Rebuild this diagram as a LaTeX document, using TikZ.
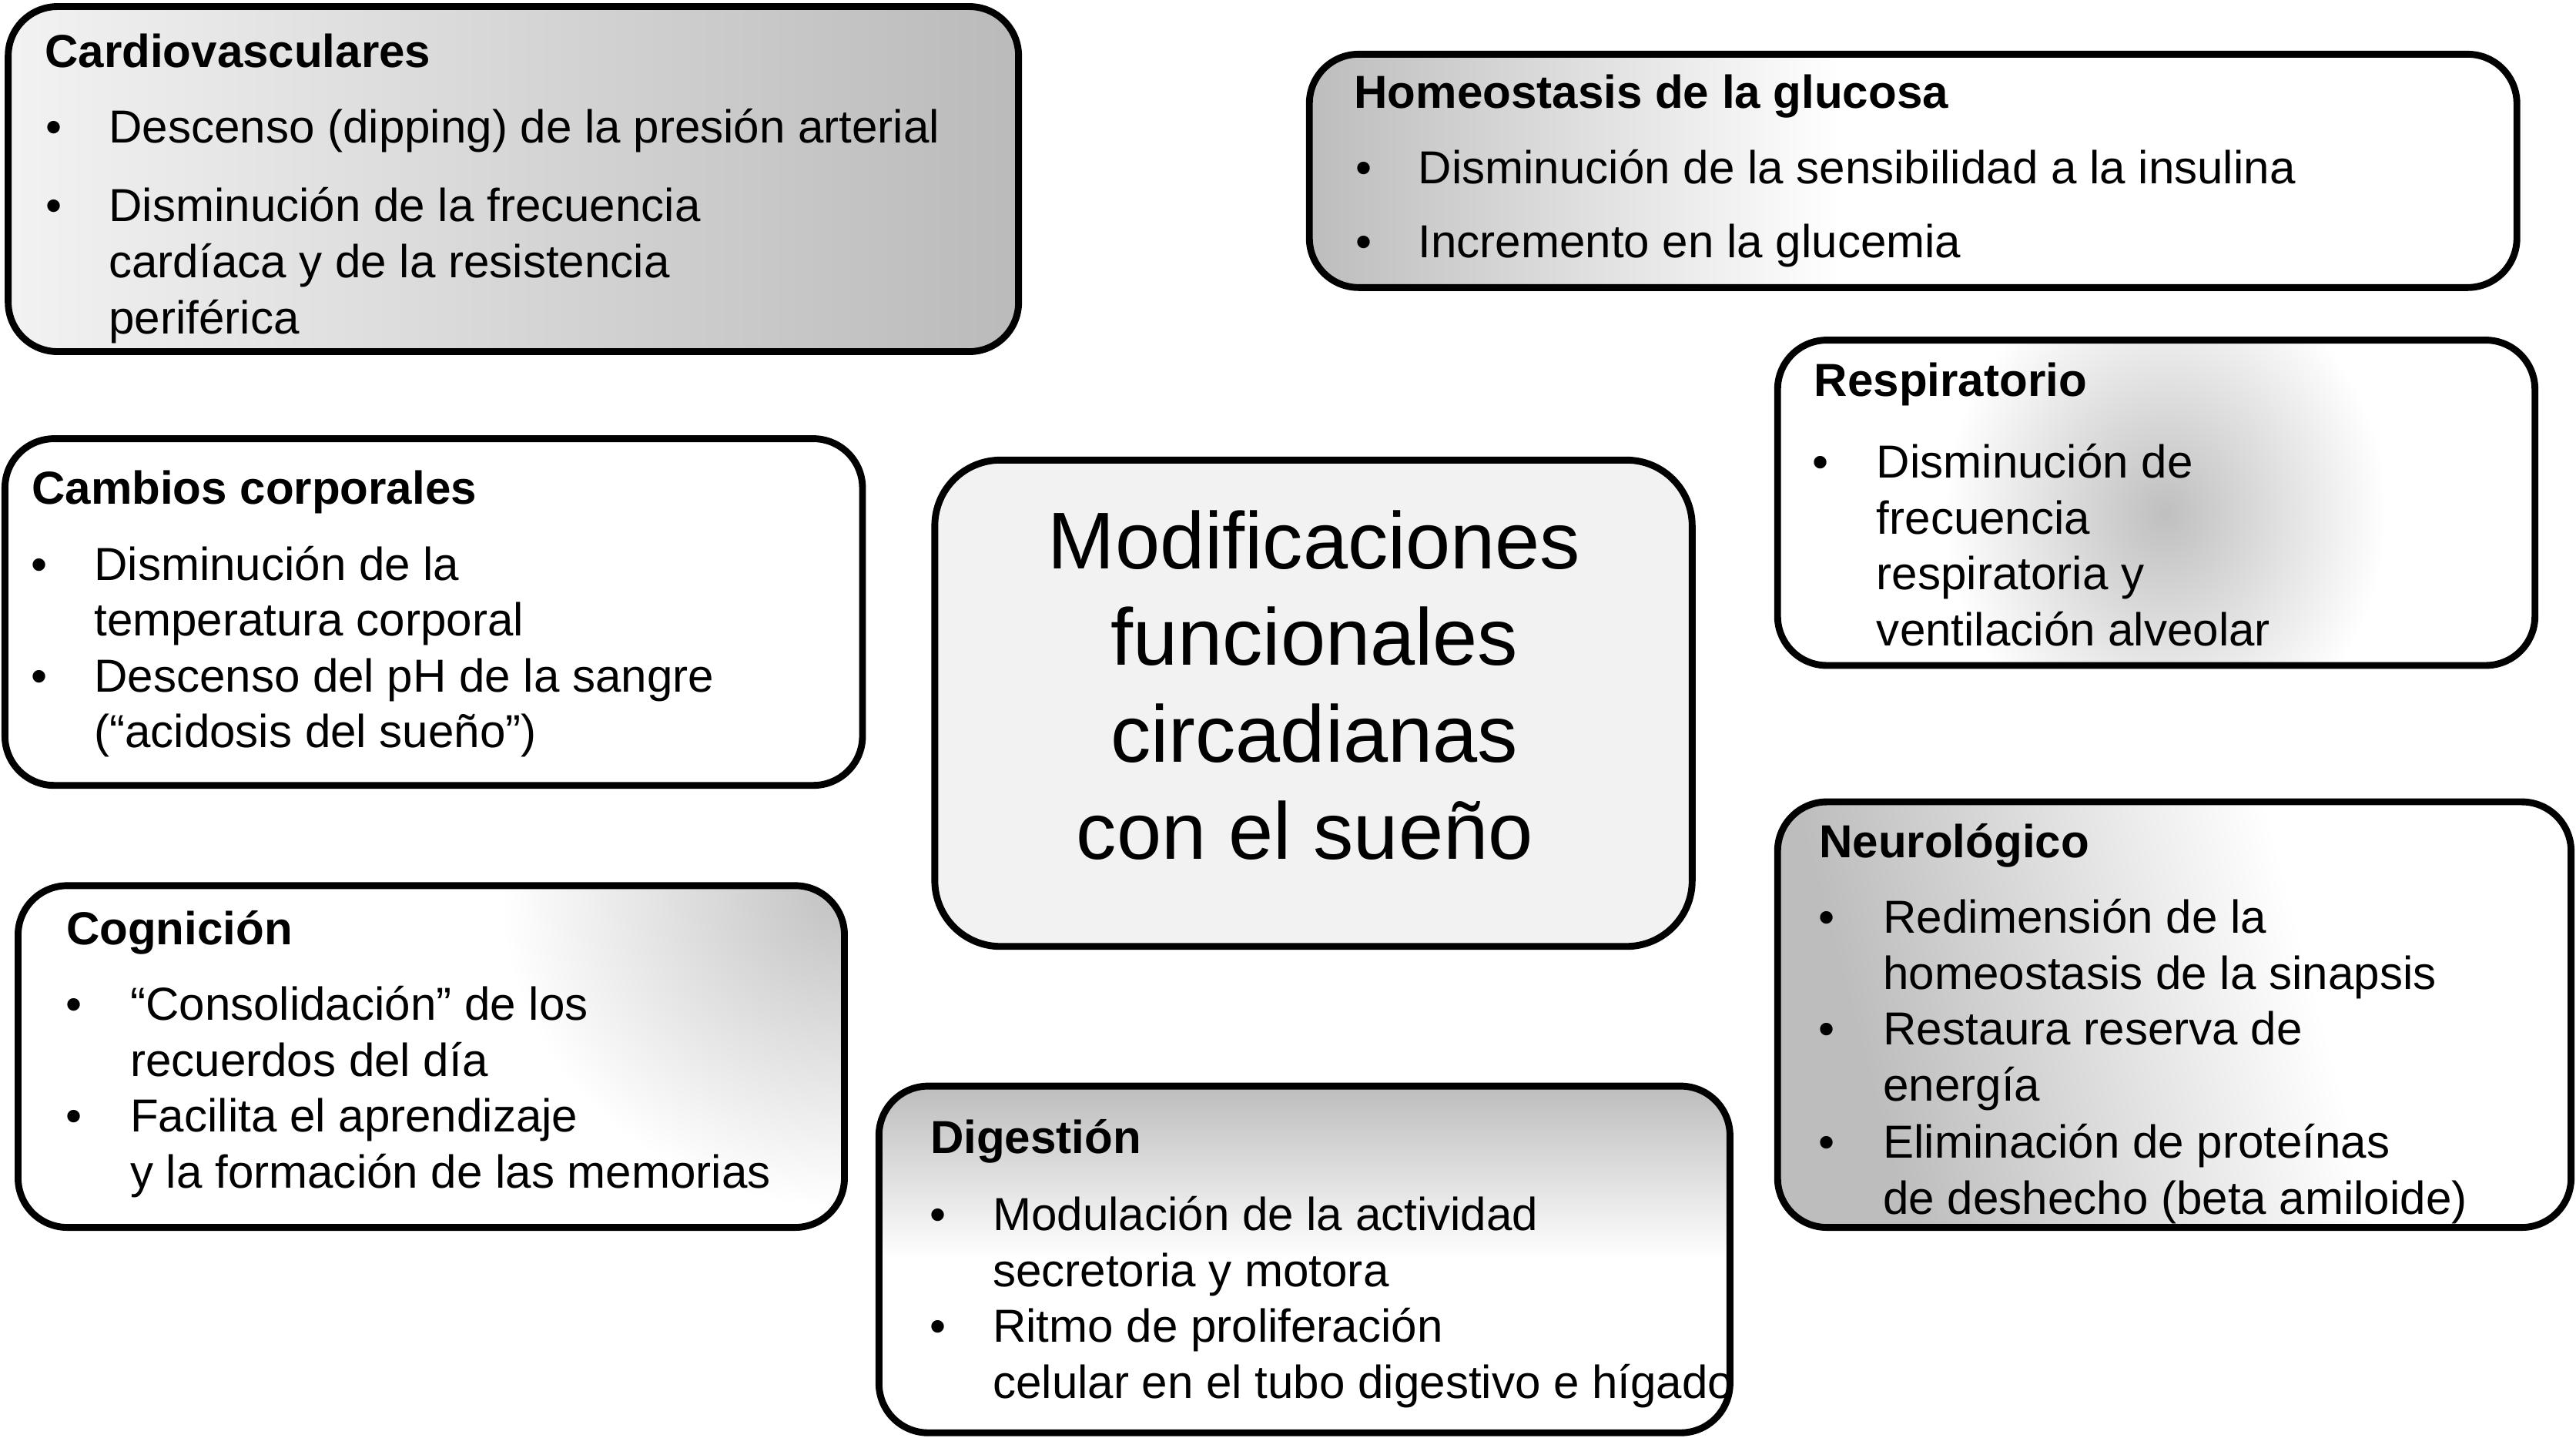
\documentclass[tikz,border=0pt]{standalone}
\usepackage{fontspec}
\setmainfont{Liberation Sans}
\definecolor{gC1}{gray}{0.95}
\definecolor{gC2}{gray}{0.73}
\definecolor{gH}{gray}{0.74}
\definecolor{gR}{gray}{0.75}
\definecolor{gN}{gray}{0.74}
\definecolor{gK}{gray}{0.76}
\definecolor{gD}{gray}{0.74}
\definecolor{gM}{gray}{0.95}
\pgfdeclarehorizontalshading{homeoshade}{100bp}{color(0bp)=(gH); color(25bp)=(gH); color(47bp)=(white); color(100bp)=(white)}
\pgfdeclarehorizontalshading{neuroshade}{100bp}{color(0bp)=(gN); color(28bp)=(gN); color(60bp)=(white); color(100bp)=(white)}
\pgfdeclareverticalshading{digshade}{100bp}{color(0bp)=(white); color(50bp)=(white); color(75bp)=(gD); color(100bp)=(gD)}
\newcommand\bodyfont{\fontsize{16.9}{20.4}\selectfont}
\newcommand\bigfont{\fontsize{29.4}{35.4}\selectfont}
\newcommand\mylines[1]{\begin{tabular}[t]{@{}l@{}}#1\end{tabular}}
\tikzset{
  box/.style={draw=black, line width=2.5pt, rounded corners=18pt},
  ttl/.style={anchor=base west, inner sep=0pt, font=\bodyfont\bfseries},
  itm/.style={anchor=base west, inner sep=0pt, font=\bodyfont},
  bul/.style={anchor=base, inner sep=0pt, font=\bodyfont},
}
\begin{document}
\begin{tikzpicture}[x=0.6pt,y=-0.6pt]
\useasboundingbox (0,0) rectangle (1568,875);
\fill[white] (0,0) rectangle (1568,875);

% Cardiovasculares
\draw[box, left color=gC1, right color=gC2] (5,4) rectangle (620,214);
% Homeostasis
\draw[box, shading=homeoshade] (797,33) rectangle (1532,175);
% Respiratorio
\fill[white, rounded corners=18pt] (1082,207) rectangle (1543,405);
\begin{scope}
  \clip[rounded corners=18pt] (1082,207) rectangle (1543,405);
  \shade[inner color=gR, outer color=white] (1318,312) ellipse [x radius=135, y radius=150];
\end{scope}
\draw[box] (1082,207) rectangle (1543,405);
% Cambios corporales
\draw[box, fill=white] (3,267) rectangle (525,478);
% Centro
\draw[box, fill=gM, rounded corners=24pt] (569,280) rectangle (1030,576);
% Neurologico
\draw[box, shading=neuroshade, shading angle=15] (1082,488) rectangle (1565,747);
% Cognicion
\fill[white, rounded corners=18pt] (11,539) rectangle (514,747);
\begin{scope}
  \clip[rounded corners=18pt] (11,539) rectangle (514,747);
  \shade[inner color=gK, outer color=white] (515,545) ellipse [x radius=210, y radius=190];
\end{scope}
\draw[box] (11,539) rectangle (514,747);
% Digestion
\draw[box, shading=digshade] (535,661) rectangle (1053,872);

% Texts: Cardiovasculares
\node[ttl] (cvT) at (27,41) {Cardiovasculares};
\node[bul] (cvB1) at (33,87) {•};
\node[itm] (cvI1) at (66,87) {Descenso (dipping) de la presión arterial};
\node[bul] (cvB2) at (33,135) {•};
\node[itm] (cvI2) at (66,135) {\mylines{Disminución de la frecuencia\\cardíaca y de la resistencia\\periférica}};

% Homeostasis
\node[ttl] (hgT) at (824,66) {Homeostasis de la glucosa};
\node[bul] (hgB1) at (830,112) {•};
\node[itm] (hgI1) at (863,112) {Disminución de la sensibilidad a la insulina};
\node[bul] (hgB2) at (830,157) {•};
\node[itm] (hgI2) at (863,157) {Incremento en la glucemia};

% Respiratorio
\node[ttl] (reT) at (1104,241) {Respiratorio};
\node[bul] (reB1) at (1108,291) {•};
\node[itm] (reI1) at (1142,291) {\mylines{Disminución de\\frecuencia\\respiratoria y\\ventilación alveolar}};

% Cambios corporales
\node[ttl] (ccT) at (19,307) {Cambios corporales};
\node[bul] (ccB1) at (24,353) {•};
\node[itm] (ccI1) at (57,353) {\mylines{Disminución de la\\temperatura corporal}};
\node[bul] (ccB2) at (24,421) {•};
\node[itm] (ccI2) at (57,421) {\mylines{Descenso del pH de la sangre\\(“acidosis del sueño”)}};

% Centro
\node[anchor=base, inner sep=0pt, font=\bigfont] (mid) at (800,346) {\begin{tabular}[t]{@{}c@{}}Modificaciones\\funcionales\\circadianas\\con el sueño\kern7pt\end{tabular}};

% Neurologico
\node[ttl] (neT) at (1107,522) {Neurológico};
\node[bul] (neB1) at (1112,568) {•};
\node[itm] (neI1) at (1146,568) {\mylines{Redimensión de la\\homeostasis de la sinapsis}};
\node[bul] (neB2) at (1112,636) {•};
\node[itm] (neI2) at (1146,636) {\mylines{Restaura reserva de\\energía}};
\node[bul] (neB3) at (1112,705) {•};
\node[itm] (neI3) at (1146,705) {\mylines{Eliminación de proteínas\\de deshecho (beta amiloide)}};

% Cognicion
\node[ttl] (coT) at (40,575) {Cognición};
\node[bul] (coB1) at (45,621) {•};
\node[itm] (coI1) at (79,621) {\mylines{“Consolidación” de los\\recuerdos del día}};
\node[bul] (coB2) at (45,689) {•};
\node[itm] (coI2) at (79,689) {\mylines{Facilita el aprendizaje\\y la formación de las memorias}};

% Digestion
\node[ttl] (diT) at (566,702) {Digestión};
\node[bul] (diB1) at (571,749) {•};
\node[itm] (diI1) at (604,749) {\mylines{Modulación de la actividad\\secretoria y motora}};
\node[bul] (diB2) at (571,817) {•};
\node[itm] (diI2) at (604,817) {\mylines{Ritmo de proliferación\\celular en el tubo digestivo e hígado}};
\end{tikzpicture}
\end{document}
